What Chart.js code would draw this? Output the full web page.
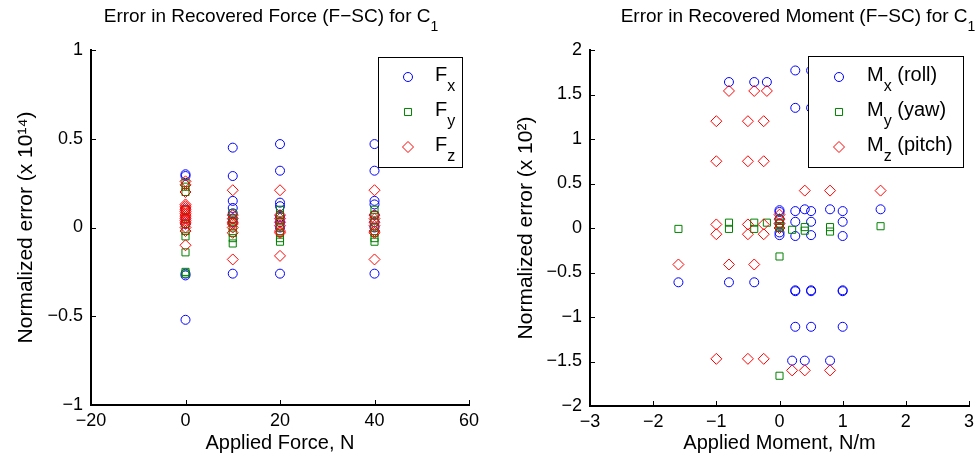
<!DOCTYPE html>
<html>
<head>
<meta charset="utf-8">
<script src="https://cdn.jsdelivr.net/npm/chart.js@4.4.0/dist/chart.umd.min.js"></script>
<style>
  body { margin: 0; background: #fff; }
  #wrap { position: relative; width: 980px; height: 465px; }
  .box { position: absolute; top: 0; width: 490px; height: 465px; }
</style>
</head>
<body>
<div id="wrap">
  <div class="box" style="left:0"><canvas id="force"></canvas></div>
  <div class="box" style="left:490px"><canvas id="moment"></canvas></div>
</div>
<script>
// tick values
const forceXTicks = [-20, 0, 20, 40, 60];
const forceYTicks = [-1, -0.5, 0, 0.5, 1];
const momentXTicks = [-3, -2, -1, 0, 1, 2, 3];
const momentYTicks = [-2, -1.5, -1, -0.5, 0, 0.5, 1, 1.5, 2];

// force plot (x 10^14)
const fxX = [0, 0, 0, 0, 0, 0, 0, 0, 10, 10, 10, 10, 10, 10, 10, 10, 20, 20, 20, 20, 20, 20, 20, 20, 40, 40, 40, 40, 40, 40, 40, 40];
const fxY = [0.30, 0.29, 0.10, 0.05, 0.02, -0.26, -0.27, -0.52,
             0.45, 0.29, 0.15, 0.11, 0.08, 0.05, 0.03, -0.26,
             0.47, 0.32, 0.14, 0.12, 0.06, 0.03, 0.00, -0.26,
             0.47, 0.32, 0.15, 0.13, 0.07, 0.03, 0.00, -0.26];
const fyX = [0, 0, 0, 0, 0, 0, 0, 0, 0, 0, 0, 10, 10, 10, 10, 10, 10, 10, 20, 20, 20, 20, 20, 20, 20, 40, 40, 40, 40, 40, 40, 40];
const fyY = [0.25, 0.23, 0.20, 0.10, 0.05, 0.02, -0.02, -0.05, -0.14, -0.25, -0.26,
             0.08, 0.05, 0.03, 0.00, -0.03, -0.06, -0.09,
             0.10, 0.07, 0.04, 0.00, -0.03, -0.06, -0.08,
             0.10, 0.07, 0.04, 0.00, -0.03, -0.06, -0.08];
const fzX = [0, 0, 0, 0, 0, 0, 0, 0, 0, 0, 0, 0, 0, 0, 0, 0, 0, 0, 10, 10, 10, 10, 10, 10, 10, 10, 20, 20, 20, 20, 20, 20, 20, 20, 40, 40, 40, 40, 40, 40, 40, 40];
const fzY = [0.26, 0.24, 0.20, 0.13, 0.12, 0.11, 0.10, 0.09, 0.08, 0.07, 0.06, 0.05, 0.04, 0.03, 0.02, 0.00, -0.02, -0.10,
             0.21, 0.07, 0.05, 0.03, 0.02, 0.00, -0.03, -0.18,
             0.21, 0.07, 0.05, 0.03, 0.01, -0.02, -0.03, -0.16,
             0.21, 0.07, 0.05, 0.03, 0.01, -0.02, -0.03, -0.18];

// moment plot (x 10^2)
const mxX = [-0.8, -0.4, -0.2, 0.25, 0.5, 1.0, 0.25, 0.5, 1.0, 0, 0.25, 0.4, 0.5, 0.8, 1.0, 1.6, 0.25, 0.5, 1.0,
             0, 0, 0, 0, 0, 0.25, 0.5, 1.0, 0.25, 0.5, 1.0, 0.25, 0.5, 1.0, 0.25, 0.5, 1.0, 0.2, 0.4, 0.8, -1.6, -0.8, -0.4];
const mxY = [1.64, 1.64, 1.64, 1.77, 1.77, 1.77, 1.35, 1.35, 1.35, 0.20, 0.19, 0.21, 0.19, 0.21, 0.19, 0.21, 0.07, 0.07, 0.07,
             0.18, 0.10, 0.05, -0.05, -0.08, -0.09, -0.08, -0.09, -0.70, -0.70, -0.70, -0.71, -0.71, -0.71, -1.11, -1.11, -1.11,
             -1.49, -1.49, -1.49, -0.61, -0.61, -0.61];
const myX = [-1.6, -0.8, -0.8, -0.4, -0.4, -0.2, 0, 0, 0, 0, 0, 0, 0.2, 0.4, 0.4, 0.8, 0.8, 1.6];
const myY = [-0.01, 0.06, -0.01, 0.06, -0.01, 0.06, 0.10, 0.05, 0.02, 0.00, -0.32, -1.66, -0.02, 0.01, -0.03, 0.01, -0.04, 0.02];
const mzX = [-1, -0.5, -0.25, -1, -0.5, -0.25, -1, -0.5, -0.25, -1, -0.5, -0.25, -1, -0.5, -0.25,
             -0.8, -0.4, -0.2, 0.4, 0.8, 1.6, -1.6, -0.8, -0.4, 0.2, 0.4, 0.8, 0, 0, 0, 0];
const mzY = [1.20, 1.20, 1.20, 0.75, 0.75, 0.75, 0.04, 0.04, 0.04, -0.07, -0.07, -0.07, -1.47, -1.47, -1.47,
             1.54, 1.54, 1.54, 0.42, 0.42, 0.42, -0.41, -0.41, -0.41, -1.60, -1.60, -1.60, 0.15, 0.10, 0.05, 0.00];

const BLUE = 'rgb(0, 0, 255)';
const GREEN = 'rgb(0, 128, 0)';
const RED = 'rgb(255, 0, 0)';
const FONT = "'Liberation Sans', Arial, sans-serif";

Chart.defaults.font.family = FONT;
Chart.defaults.color = '#000';

function pts(xs, ys) {
  return xs.map((x, i) => ({ x: x, y: ys[i] }));
}

function series(label, xs, ys, color, style, radius, order) {
  return {
    label: label,
    data: pts(xs, ys),
    pointStyle: style,
    radius: radius,
    borderColor: color,
    backgroundColor: 'rgba(0,0,0,0)',
    borderWidth: 1,
    order: order
  };
}

function minus(v) {
  return String(v).replace('-', '\u2212');
}

// text pieces with subscripts, drawn left to right
function drawPieces(ctx, pieces, x, y, align) {
  let total = 0;
  pieces.forEach(p => {
    ctx.font = p.size + 'px ' + FONT;
    p.w = ctx.measureText(p.text).width;
    total += p.w;
  });
  let cx = align === 'center' ? x - total / 2 : x;
  ctx.textAlign = 'left';
  ctx.textBaseline = 'alphabetic';
  pieces.forEach(p => {
    ctx.font = p.size + 'px ' + FONT;
    ctx.fillText(p.text, cx, y + (p.dy || 0));
    cx += p.w;
  });
}

const decor = {
  id: 'decor',
  afterDraw(chart, args, opts) {
    const ctx = chart.ctx;
    const xs = chart.scales.x, ys = chart.scales.y;
    ctx.save();
    ctx.fillStyle = '#000';
    ctx.strokeStyle = '#000';
    ctx.lineWidth = 1;

    // inward tick marks
    ctx.beginPath();
    xs.ticks.forEach(t => {
      const px = Math.round(xs.getPixelForValue(t.value)) + 0.5;
      ctx.moveTo(px, ys.bottom);
      ctx.lineTo(px, ys.bottom - 5);
    });
    ys.ticks.forEach(t => {
      const py = Math.round(ys.getPixelForValue(t.value)) + 0.5;
      ctx.moveTo(xs.left, py);
      ctx.lineTo(xs.left + 5, py);
    });
    ctx.stroke();

    // title
    drawPieces(ctx, opts.title, opts.titleX, opts.titleY, 'center');

    // legend box
    const lg = opts.legend;
    const bx = chart.chartArea.right - lg.inset - lg.w;
    const by = chart.chartArea.top + lg.inset;
    ctx.fillStyle = '#fff';
    ctx.fillRect(bx, by, lg.w, lg.h);
    ctx.strokeStyle = '#000';
    ctx.strokeRect(Math.round(bx) + 0.5, Math.round(by) + 0.5, lg.w, lg.h);
    chart.data.datasets.forEach((ds, i) => {
      const ry = by + lg.rowTop + i * lg.rowGap;
      ctx.fillStyle = '#fff';
      ctx.strokeStyle = ds.borderColor;
      ctx.lineWidth = 1;
      Chart.helpers.drawPoint(ctx, { pointStyle: ds.pointStyle, radius: ds.radius, borderWidth: 1, rotation: 0 }, bx + lg.markX, ry);
      ctx.fillStyle = '#000';
      drawPieces(ctx, lg.items[i], bx + lg.textX, ry + 4, 'left');
    });
    ctx.restore();
  }
};

function makeChart(id, cfg) {
  return new Chart(id, {
    type: 'scatter',
    data: { datasets: cfg.datasets },
    options: {
      responsive: true,
      maintainAspectRatio: false,
      animation: false,
      layout: { padding: { top: 50, right: cfg.padRight, left: 0, bottom: 0 } },
      scales: {
        x: {
          type: 'linear',
          min: cfg.xTicks[0],
          max: cfg.xTicks[cfg.xTicks.length - 1],
          afterBuildTicks: s => { s.ticks = cfg.xTicks.map(v => ({ value: v })); },
          afterFit: s => { s.height = cfg.xHeight; },
          grid: { display: false, drawTicks: false },
          border: { display: true, color: '#000', width: 2 },
          ticks: { padding: 5, font: { size: 18 }, color: '#000', maxRotation: 0, callback: v => minus(v) },
          title: { display: true, text: cfg.xTitle, font: { size: 20 }, color: '#000', padding: { top: 0, bottom: 10 } }
        },
        y: {
          type: 'linear',
          min: cfg.yTicks[0],
          max: cfg.yTicks[cfg.yTicks.length - 1],
          afterBuildTicks: s => { s.ticks = cfg.yTicks.map(v => ({ value: v })); },
          afterFit: s => { s.width = cfg.yWidth; },
          grid: { display: false, drawTicks: false },
          border: { display: true, color: '#000', width: 2 },
          ticks: { padding: 8, font: { size: 18 }, color: '#000', callback: v => minus(v) },
          title: { display: true, text: cfg.yTitle, font: { size: 21 }, color: '#000', padding: { top: cfg.yTitlePad, bottom: 0 } }
        }
      },
      plugins: {
        legend: { display: false },
        tooltip: { enabled: false },
        decor: cfg.decor
      }
    },
    plugins: [decor]
  });
}

makeChart('force', {
  datasets: [
    series('Fx', fxX, fxY, BLUE, 'circle', 4.5, 3),
    series('Fy', fyX, fyY, GREEN, 'rect', 5, 2),
    series('Fz', fzX, fzY, RED, 'rectRot', 5.5, 1)
  ],
  xTicks: forceXTicks,
  yTicks: forceYTicks,
  xTitle: 'Applied Force, N',
  yTitle: 'Normalized error (x 10\u00B9\u2074)',
  padRight: 21,
  xHeight: 60,
  yWidth: 91,
  yTitlePad: 14,
  decor: {
    title: [{ text: 'Error in Recovered Force (F\u2212SC) for C', size: 19 }, { text: '1', size: 14, dy: 9 }],
    titleX: 271,
    titleY: 22,
    legend: {
      inset: 7, w: 84, h: 110, rowTop: 20, rowGap: 35, markX: 30, textX: 57,
      items: [
        [{ text: 'F', size: 20 }, { text: 'x', size: 16, dy: 10 }],
        [{ text: 'F', size: 20 }, { text: 'y', size: 16, dy: 10 }],
        [{ text: 'F', size: 20 }, { text: 'z', size: 16, dy: 10 }]
      ]
    }
  }
});

makeChart('moment', {
  datasets: [
    series('Mx (roll)', mxX, mxY, BLUE, 'circle', 4.5, 3),
    series('My (yaw)', myX, myY, GREEN, 'rect', 5, 2),
    series('Mz (pitch)', mzX, mzY, RED, 'rectRot', 5.5, 1)
  ],
  xTicks: momentXTicks,
  yTicks: momentYTicks,
  xTitle: 'Applied Moment, N/m',
  yTitle: 'Normalized error (x 10\u00B2)',
  padRight: 11,
  xHeight: 59,
  yWidth: 100,
  yTitlePad: 24,
  decor: {
    title: [{ text: 'Error in Recovered Moment (F\u2212SC) for C', size: 19 }, { text: '1', size: 14, dy: 9 }],
    titleX: 308,
    titleY: 22,
    legend: {
      inset: 6, w: 155, h: 111, rowTop: 21, rowGap: 35, markX: 31, textX: 59,
      items: [
        [{ text: 'M', size: 20 }, { text: 'x', size: 16, dy: 10 }, { text: ' (roll)', size: 20 }],
        [{ text: 'M', size: 20 }, { text: 'y', size: 16, dy: 10 }, { text: ' (yaw)', size: 20 }],
        [{ text: 'M', size: 20 }, { text: 'z', size: 16, dy: 10 }, { text: ' (pitch)', size: 20 }]
      ]
    }
  }
});
</script>
</body>
</html>
